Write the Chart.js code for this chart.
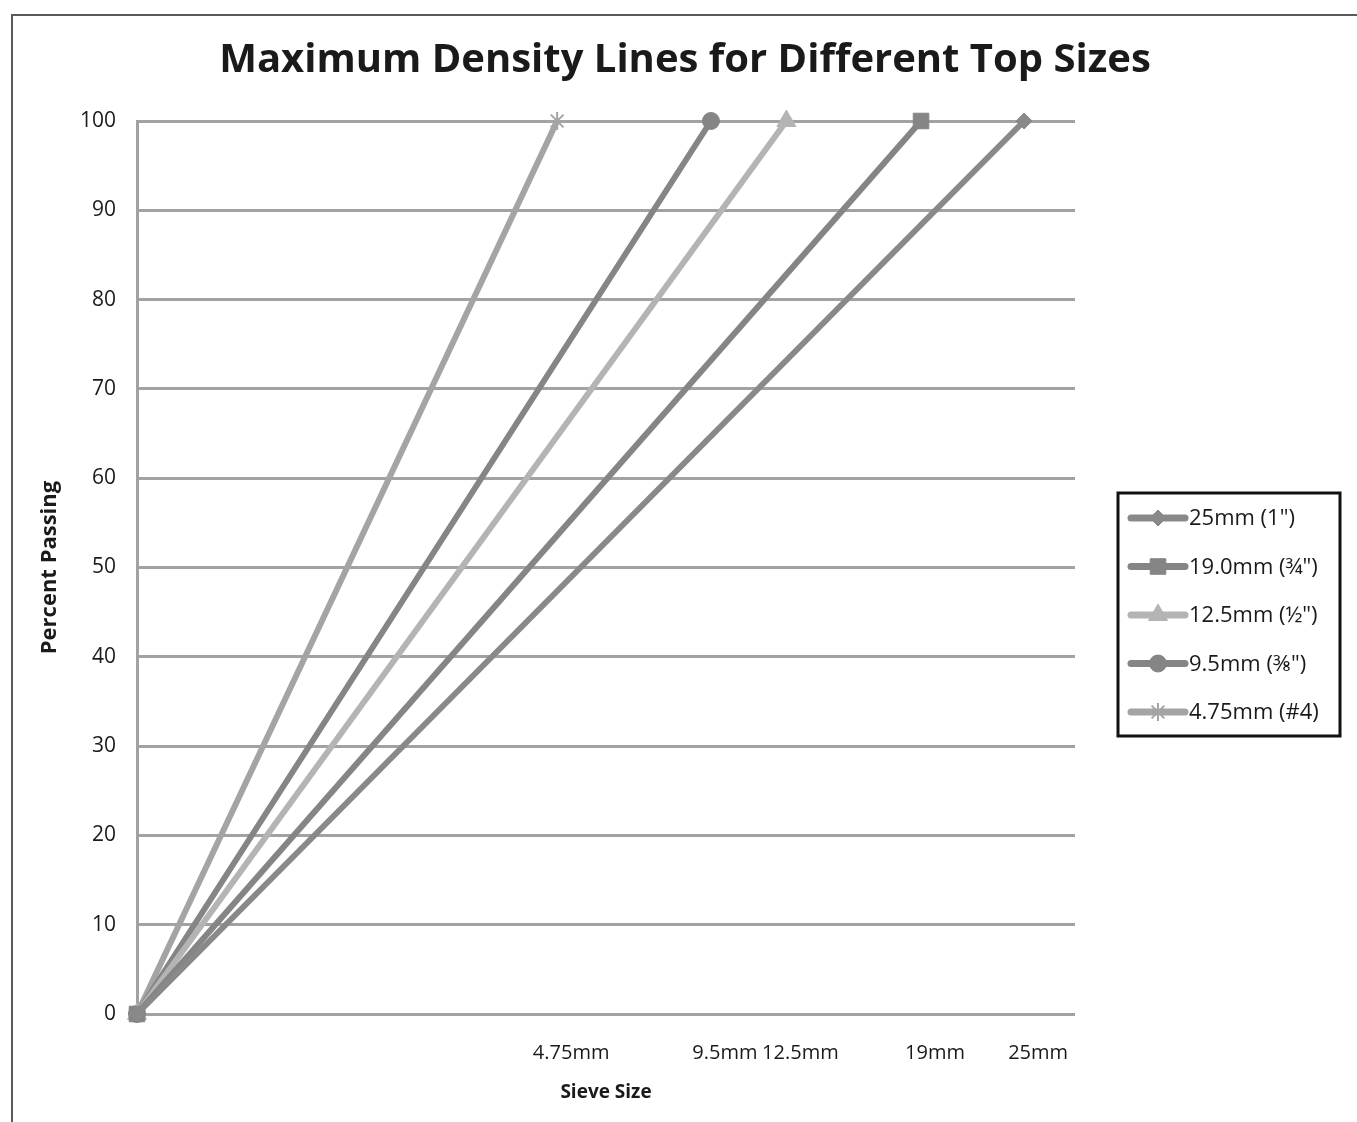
<!DOCTYPE html>
<html>
<head>
<meta charset="utf-8">
<script src="https://cdn.jsdelivr.net/npm/chart.js@4/dist/chart.umd.min.js"></script>
<style>
  html, body { margin: 0; padding: 0; background: #fff; }
  #wrap { position: relative; width: 1357px; height: 1122px; }
</style>
</head>
<body>
<div id="wrap"><canvas id="chart"></canvas></div>
<script>
// sieve sizes on the x axis (mm)
const sieveSizes = [4.75, 9.5, 12.5, 19, 25]
// one maximum density line per top size
const seriesLabels = ['25mm (1")', '19.0mm (¾")', '12.5mm (½")', '9.5mm (⅜")', '4.75mm (#4)']
const topSizes = [25, 19, 12.5, 9.5, 4.75]
const passingStart = [0, 0, 0, 0, 0]
const passingTop = [100, 100, 100, 100, 100]
const yTicks = [0, 10, 20, 30, 40, 50, 60, 70, 80, 90, 100]
const chartTitle = 'Maximum Density Lines for Different Top Sizes'

const lineColours = ['#898989', '#858585', '#b4b4b4', '#858585', '#a4a4a4']
const pointStyles = ['rectRot', 'rect', 'triangle', 'circle', 'star']
const pointSizes = [8, 11, 11, 8.5, 9]

// 0.45 power gradation chart: x position is (size)^0.45
const EXP = 0.45
class PowerScale extends Chart.LinearScale {
  getPixelForValue(value) {
    let t = Math.pow(Math.max(value, 0), EXP) / Math.pow(this.max, EXP)
    return this.getPixelForDecimal(t)
  }
  getValueForPixel(pixel) {
    return Math.pow(this.getDecimalForPixel(pixel), 1 / EXP) * this.max
  }
}
PowerScale.id = 'power'
PowerScale.defaults = Chart.LinearScale.defaults
Chart.register(PowerScale)

let datasets = []
for (let i = 0; i < seriesLabels.length; ++i) {
  datasets.push({
    label: seriesLabels[i],
    data: [{x: 0, y: passingStart[i]}, {x: topSizes[i], y: passingTop[i]}],
    borderColor: lineColours[i],
    backgroundColor: lineColours[i],
    borderWidth: 6,
    pointStyle: pointStyles[i],
    pointRadius: pointSizes[i],
    pointBorderWidth: pointStyles[i] == 'star' ? 2 : 1,
    pointBorderColor: lineColours[i],
    pointBackgroundColor: lineColours[i],
    clip: false,
    tension: 0,
  })
}

// frame round the chart (only top and left edges show in the picture) + title
const framePlugin = {
  id: 'frame',
  beforeDraw(chart) {
    let ctx = chart.ctx
    ctx.save()
    ctx.strokeStyle = '#5a5a5a'
    ctx.lineWidth = 2
    ctx.beginPath()
    ctx.moveTo(12, chart.height)
    ctx.lineTo(12, 15)
    ctx.lineTo(chart.width, 15)
    ctx.stroke()
    ctx.fillStyle = '#1a1a1a'
    ctx.font = 'bold 40px "Open Sans"'
    ctx.textAlign = 'center'
    ctx.textBaseline = 'middle'
    ctx.fillText(chartTitle, 685, 61)
    ctx.restore()
  }
}

const legendPlugin = {
  id: 'sideLegend',
  afterDraw(chart) {
    let ctx = chart.ctx
    let box = {x: 1118, y: 493, w: 222, h: 243}
    ctx.save()
    ctx.strokeStyle = '#111'
    ctx.lineWidth = 3
    ctx.strokeRect(box.x, box.y, box.w, box.h)
    ctx.font = '22px "Open Sans"'
    ctx.textBaseline = 'middle'
    chart.data.datasets.forEach((ds, i) => {
      let y = 518 + i * 48.5
      ctx.strokeStyle = ds.borderColor
      ctx.lineWidth = 7
      ctx.lineCap = 'round'
      ctx.beginPath()
      ctx.moveTo(1131, y)
      ctx.lineTo(1185, y)
      ctx.stroke()
      ctx.fillStyle = ds.borderColor
      ctx.lineWidth = ds.pointBorderWidth
      ctx.lineCap = 'butt'
      Chart.helpers.drawPoint(ctx, {
        pointStyle: ds.pointStyle,
        radius: ds.pointRadius,
        rotation: 0,
        borderWidth: ds.pointBorderWidth,
      }, 1158, y)
      ctx.fillStyle = '#1a1a1a'
      ctx.fillText(ds.label, 1189, y + 1)
    })
    ctx.restore()
  }
}

let ctx = document.getElementById('chart').getContext('2d')
let chart = new Chart(ctx, {
  type: 'line',
  data: { datasets: datasets },
  plugins: [framePlugin, legendPlugin],
  options: {
    responsive: true,
    maintainAspectRatio: false,
    animation: false,
    layout: {
      padding: { left: 12, right: 282, top: 121, bottom: 0 },
    },
    plugins: {
      legend: { display: false },
      tooltip: { enabled: false },
      title: { display: false },
    },
    scales: {
      x: {
        type: 'power',
        min: 0,
        max: 28.3,
        afterBuildTicks(scale) {
          scale.ticks = sieveSizes.map(v => ({value: v}))
        },
        afterFit(scale) {
          scale.height = 108
        },
        ticks: {
          autoSkip: false,
          maxRotation: 0,
          padding: 27,
          labelOffset: 14,
          color: '#1a1a1a',
          font: { family: 'Open Sans', size: 20 },
          callback: v => v + 'mm',
        },
        grid: { display: false, drawTicks: false },
        border: { display: false },
        title: {
          display: true,
          text: 'Sieve Size',
          color: '#1a1a1a',
          font: { family: 'Open Sans', size: 19, weight: 'bold' },
          padding: { top: 0, bottom: 18 },
        },
      },
      y: {
        min: 0,
        max: 100,
        afterBuildTicks(scale) {
          scale.ticks = yTicks.map(v => ({value: v}))
        },
        afterFit(scale) {
          scale.width = 125
        },
        ticks: {
          padding: 21,
          color: '#1a1a1a',
          font: { family: 'Open Sans', size: 21 },
        },
        grid: { color: '#a2a2a2', lineWidth: 3, drawTicks: false },
        border: { display: true, color: '#a2a2a2', width: 3 },
        title: {
          display: true,
          text: 'Percent Passing',
          color: '#1a1a1a',
          font: { family: 'Open Sans', size: 22, weight: 'bold' },
          padding: { top: 25, bottom: 0 },
        },
      },
    },
  },
})
</script>
</body>
</html>
